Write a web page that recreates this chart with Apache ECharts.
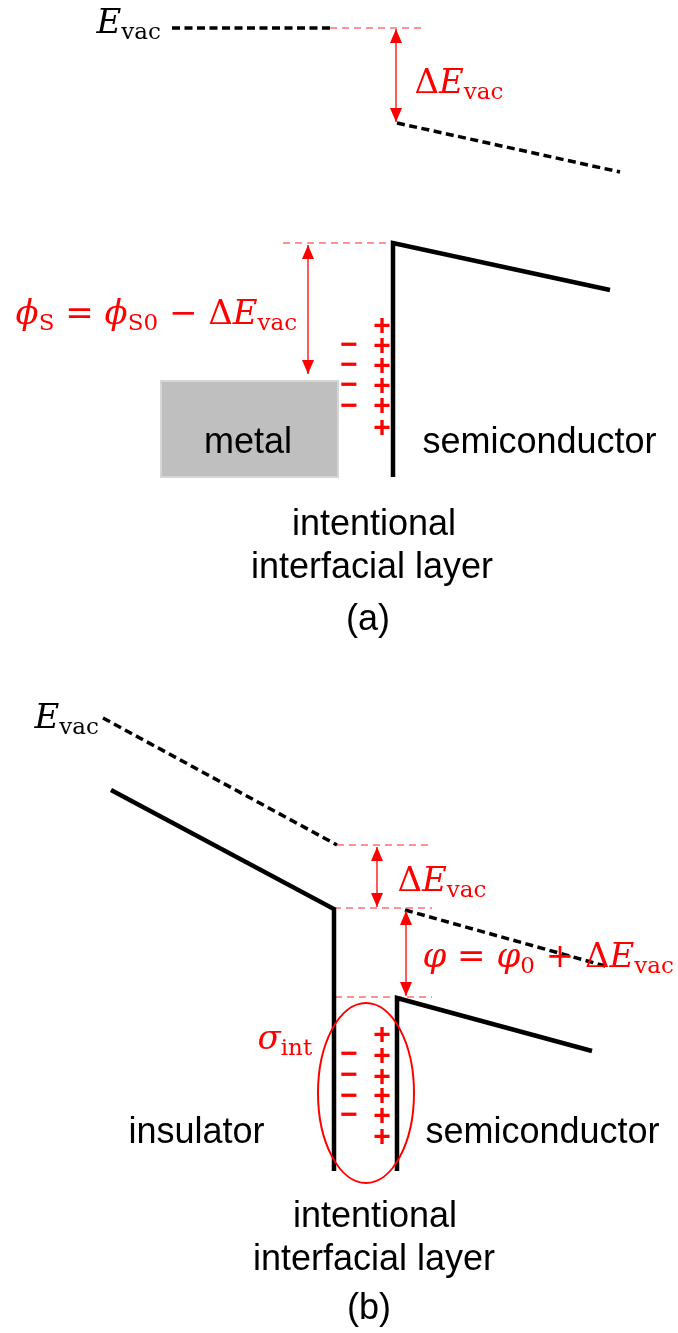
<!DOCTYPE html>
<html>
<head>
<meta charset="utf-8">
<script src="https://cdn.jsdelivr.net/npm/echarts@6/dist/echarts.min.js"></script>
<style>html,body{margin:0;padding:0;background:#fff}#c{width:678px;height:1333px}</style>
</head>
<body>
<div id="c"></div>
<script>
// ---------- data (diagram coordinates, x: 0..678, y: 0..1333 downwards) ----------
// solid band edges
const bandA = [[393,477],[393,243],[610,290]];
const bandInsB = [[111,790],[334,909],[334,1171]];
const bandSemiB = [[397,1171],[397,998],[592,1051]];
// vacuum levels (black dashed)
const vacA1 = [[172,28],[330,28]];
const vacA2 = [[397,123],[620,172]];
const vacB1 = [[103,718],[337,845]];
const vacB2 = [[405,910],[609,967]];
// red thin dashed reference levels
const refA1 = [[330,28],[426,28]];
const refA2 = [[283,243],[393,243]];
const refB1 = [[337,845],[432,845]];
const refB2 = [[334,908],[432,908]];
const refB3 = [[335,997],[432,997]];
// red double arrows [top, bottom]
const arrowA1 = [[396,29],[396,122]];
const arrowA2 = [[308,245],[308,374]];
const arrowB1 = [[377,847],[377,907]];
const arrowB2 = [[406,911],[406,996]];
// metal block [x1,y1,x2,y2]
const metalBox = [[161,381,338,477]];
// interfacial charge ellipse [cx,cy,rx,ry]
const chargeEllipse = [[366,1093,48,90]];
// charges
const plusA = [[382,327],[382,347],[382,367],[382,387],[382,407],[382,429]];
const minusA = [[349,346],[349,366],[349,386],[349,407]];
const plusB = [[382,1036],[382,1057],[382,1078],[382,1097],[382,1117],[382,1138]];
const minusB = [[349,1055],[349,1076],[349,1097],[349,1116]];
// sans-serif labels [text, x, y, anchor]
const sansLabels = [
  ['metal', 248, 443, 'center'],
  ['semiconductor', 422, 443, 'left'],
  ['intentional', 374, 525, 'center'],
  ['interfacial layer', 372, 568, 'center'],
  ['(a)', 368, 620, 'center'],
  ['insulator', 128, 1133, 'left'],
  ['semiconductor', 425, 1133, 'left'],
  ['intentional', 375, 1217, 'center'],
  ['interfacial layer', 374, 1260, 'center'],
  ['(b)', 369, 1309, 'center']
];
// math labels [rich text, x, y]
const mathBlack = [
  ['{it|E}{sb|vac}', 96, 24],
  ['{it|E}{sb|vac}', 34, 719]
];
const mathRed = [
  ['{rm|Δ}{it|E}{sb|vac}', 414, 84],
  ['{it|ϕ}{sb|S}{rm| = }{it|ϕ}{sb|S0}{rm| − Δ}{it|E}{sb|vac}', 15, 315],
  ['{rm|Δ}{it|E}{sb|vac}', 397, 882],
  ['{it|φ}{rm| = }{it|φ}{sb|0}{rm| + Δ}{it|E}{sb|vac}', 422, 958],
  ['{it|σ}{sb|int}', 257, 1040]
];

// ---------- build ----------
const RED = '#ff0000';
const series = [];
function lineSeries(data, style, z) {
  series.push({type:'line', data:data, symbol:'none', lineStyle:style, z:z||2, silent:true, clip:false, animation:false});
}
[bandA, bandInsB, bandSemiB].forEach(d => lineSeries(d, {color:'#000', width:4.5, cap:'butt', join:'miter'}, 4));
[vacA1, vacA2, vacB1, vacB2].forEach(d => lineSeries(d, {color:'#000', width:3.5, type:[8,4.5]}, 3));
[refA1, refA2, refB1, refB2, refB3].forEach(d => lineSeries(d, {color:RED, width:1, type:[7,5], opacity:0.85}, 2));
[arrowA1, arrowA2, arrowB1, arrowB2].forEach(d => {
  series.push({
    type:'line', silent:true, clip:false, animation:false, z:5,
    symbol:'triangle', symbolSize:[12,14], showSymbol:true, showAllSymbol:true,
    itemStyle:{color:RED, opacity:1}, lineStyle:{color:RED, width:1.3},
    data:[
      {value:d[0], symbolRotate:0, symbolOffset:[0,7]},
      {value:d[1], symbolRotate:180, symbolOffset:[0,-7]}
    ]
  });
});
series.push({
  type:'custom', silent:true, clip:false, animation:false, z:1, data:metalBox,
  renderItem:(p, api) => {
    const a = api.coord([api.value(0), api.value(1)]);
    const b = api.coord([api.value(2), api.value(3)]);
    return {type:'rect', shape:{x:a[0], y:a[1], width:b[0]-a[0], height:b[1]-a[1]},
            style:{fill:'#bfbfbf', stroke:'#d6d6d6', lineWidth:2}};
  }
});
series.push({
  type:'custom', silent:true, clip:false, animation:false, z:6, data:chargeEllipse,
  renderItem:(p, api) => {
    const c = api.coord([api.value(0), api.value(1)]);
    const s = api.size([api.value(2), api.value(3)]);
    const rx = Math.abs(s[0]), ry = Math.abs(s[1]);
    const cx = c[0], cy = c[1];
    const d = 'M ' + (cx-rx) + ' ' + cy + ' A ' + rx + ' ' + ry + ' 0 1 0 ' + (cx+rx) + ' ' + cy +
              ' A ' + rx + ' ' + ry + ' 0 1 0 ' + (cx-rx) + ' ' + cy + ' Z';
    return {type:'path', shape:{pathData:d, x:cx-rx, y:cy-ry, width:2*rx, height:2*ry, layout:'cover'},
            style:{fill:'none', stroke:RED, lineWidth:2}};
  }
});
function posFor(anchor) { return anchor === 'left' ? 'right' : (anchor === 'right' ? 'left' : 'inside'); }
function textSeries(items, labelBase) {
  series.push({
    type:'scatter', silent:true, animation:false, z:8, symbolSize:1,
    itemStyle:{color:'rgba(0,0,0,0)', opacity:1},
    label:Object.assign({show:true, opacity:1}, labelBase),
    data:items.map(t => ({value:[t[1], t[2]], label:{formatter:t[0], position:posFor(t[3]||'left'), distance:0}}))
  });
}
textSeries(sansLabels, {fontFamily:'Liberation Sans', fontSize:36, color:'#000'});
function mathRich(color) {
  return {
    it:{fontFamily:'DejaVu Serif', fontStyle:'italic', fontSize:34, color:color, opacity:1},
    rm:{fontFamily:'DejaVu Serif', fontSize:34, color:color, opacity:1},
    sb:{fontFamily:'DejaVu Serif', fontSize:23, color:color, opacity:1, padding:[19,0,0,0]}
  };
}
textSeries(mathBlack.map(t => [t[0], t[1], t[2], 'left']), {color:'#000', rich:mathRich('#000')});
textSeries(mathRed.map(t => [t[0], t[1], t[2], 'left']), {color:RED, rich:mathRich(RED)});
const chargeBase = {fontFamily:'Liberation Sans', fontWeight:'bold', fontSize:30, color:RED};
textSeries(plusA.concat(plusB).map(p => ['+', p[0], p[1], 'center']), chargeBase);
textSeries(minusA.concat(minusB).map(p => ['−', p[0], p[1], 'center']), chargeBase);

const chart = echarts.init(document.getElementById('c'), null, {renderer:'canvas'});
chart.setOption({
  animation:false,
  backgroundColor:'#ffffff',
  grid:{left:0, right:0, top:0, bottom:0},
  xAxis:{type:'value', min:0, max:678, show:false},
  yAxis:{type:'value', min:0, max:1333, inverse:true, show:false},
  series:series
});
</script>
</body>
</html>
